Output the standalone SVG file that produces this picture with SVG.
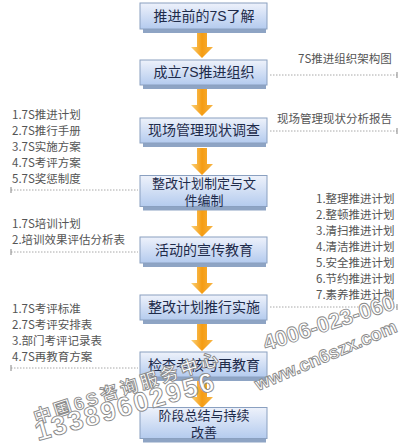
<svg xmlns="http://www.w3.org/2000/svg" width="405" height="448" viewBox="0 0 405 448">
<defs>
<linearGradient id="bg" x1="0" y1="0" x2="0" y2="1">
<stop offset="0" stop-color="#eef2fb"/>
<stop offset="1" stop-color="#b4cbee"/>
</linearGradient>
<linearGradient id="ag" x1="0" y1="0" x2="1" y2="0">
<stop offset="0" stop-color="#fbd27a"/>
<stop offset="0.5" stop-color="#f59c12"/>
<stop offset="1" stop-color="#f7b545"/>
</linearGradient>
<g id="arrow"><path d="M197,0 H207 V16 H213 L202,27 L191,16 H197 Z" fill="url(#ag)"/></g>
</defs>
<style>
.box{fill:url(#bg);stroke:#8aa0c0;stroke-width:1}
.base{fill:#8ea4c4}
.bt{font-family:"Liberation Sans","Noto Sans CJK SC",sans-serif;font-size:14px;fill:#1e2b4a;text-anchor:middle}
.bt2{font-size:13px}
.note{font-family:"Noto Sans CJK SC","Liberation Sans",sans-serif;font-size:11.5px;fill:#555}
.dl{stroke:#a8a8a8;stroke-width:1;stroke-dasharray:1.5 1.5;fill:none}
.tick{stroke:#999;stroke-width:1.2}
.wm{font-family:"Liberation Sans","Noto Sans CJK SC",sans-serif;font-weight:bold;fill:#fff;stroke:#8a8a8a;stroke-width:0.9}
</style>
<rect width="405" height="448" fill="#fff"/>
<g id="connectors">
<use href="#arrow" y="31"/>
<use href="#arrow" y="89"/>
<use href="#arrow" y="148"/>
<use href="#arrow" y="210"/>
<use href="#arrow" y="267"/>
<use href="#arrow" y="324"/>
<use href="#arrow" y="381"/>
<line class="dl" x1="270" y1="75" x2="397" y2="75"/><line class="tick" x1="397" y1="72" x2="397" y2="78"/>
<line class="dl" x1="270" y1="131" x2="397" y2="131"/><line class="tick" x1="397" y1="128" x2="397" y2="134"/>
<line class="dl" x1="11" y1="190" x2="138" y2="190"/><line class="tick" x1="11" y1="187" x2="11" y2="193"/>
<line class="dl" x1="11" y1="252" x2="138" y2="252"/><line class="tick" x1="11" y1="249" x2="11" y2="255"/>
<line class="dl" x1="270" y1="307" x2="397" y2="307"/><line class="tick" x1="397" y1="304" x2="397" y2="310"/>
<line class="dl" x1="11" y1="368" x2="138" y2="368"/><line class="tick" x1="11" y1="365" x2="11" y2="371"/>
</g>
<g id="n1"><rect class="base" x="143" y="7" width="123" height="26"/><rect class="box" x="140" y="3" width="127" height="26"/><text class="bt" x="204" y="21">推进前的7S了解</text></g>
<g id="n2"><rect class="base" x="143" y="64" width="123" height="25"/><rect class="box" x="140" y="60" width="127" height="25"/><text class="bt" x="204" y="77">成立7S推进组织</text></g>
<g id="n3"><rect class="base" x="143" y="122" width="123" height="25"/><rect class="box" x="140" y="118" width="127" height="25"/><text class="bt" x="204" y="135">现场管理现状调查</text></g>
<g id="n4"><rect class="base" x="143" y="179.5" width="123" height="31"/><rect class="box" x="140" y="175.5" width="127" height="31"/><text class="bt bt2" x="204" y="188">整改计划制定与文</text><text class="bt bt2" x="204" y="205">件编制</text></g>
<g id="n5"><rect class="base" x="143" y="241" width="123" height="26"/><rect class="box" x="140" y="237" width="127" height="26"/><text class="bt" x="204" y="255">活动的宣传教育</text></g>
<g id="n6"><rect class="base" x="143" y="299" width="123" height="25"/><rect class="box" x="140" y="295" width="127" height="25"/><text class="bt" x="204" y="312">整改计划推行实施</text></g>
<g id="n7"><rect class="base" x="143" y="356" width="123" height="25"/><rect class="box" x="140" y="352" width="127" height="25"/><text class="bt" x="204" y="370">检查考核与再教育</text></g>
<g id="n8"><rect class="base" x="143" y="411.5" width="123" height="31"/><rect class="box" x="140" y="407.5" width="127" height="31"/><text class="bt bt2" x="204" y="420">阶段总结与持续</text><text class="bt bt2" x="204" y="437">改善</text></g>
<g id="notes">
<text class="note" x="298" y="63">7S推进组织架构图</text>
<text class="note" x="277" y="123">现场管理现状分析报告</text>
<text class="note" x="12" y="119">1.7S推进计划</text>
<text class="note" x="12" y="135">2.7S推行手册</text>
<text class="note" x="12" y="151">3.7S实施方案</text>
<text class="note" x="12" y="167">4.7S考评方案</text>
<text class="note" x="12" y="183">5.7S奖惩制度</text>
<text class="note" x="12" y="228">1.7S培训计划</text>
<text class="note" x="12" y="244">2.培训效果评估分析表</text>
<text class="note" x="316" y="203">1.整理推进计划</text>
<text class="note" x="316" y="219">2.整顿推进计划</text>
<text class="note" x="316" y="235">3.清扫推进计划</text>
<text class="note" x="316" y="251">4.清洁推进计划</text>
<text class="note" x="316" y="267">5.安全推进计划</text>
<text class="note" x="316" y="283">6.节约推进计划</text>
<text class="note" x="316" y="299">7.素养推进计划</text>
<text class="note" x="12" y="313">1.7S考评标准</text>
<text class="note" x="12" y="329">2.7S考评安排表</text>
<text class="note" x="12" y="345">3.部门考评记录表</text>
<text class="note" x="12" y="361">4.7S再教育方案</text>
</g>
<g id="watermark">
<text class="wm" font-size="18" letter-spacing="3" transform="translate(36,424) rotate(-18)">中国6S咨询服务中心</text>
<text class="wm" font-size="22" transform="translate(266,351) rotate(-18)">4006-023-060</text>
<text class="wm" font-size="18.5" transform="translate(258,391) rotate(-23)">www.cn6szx.com</text>
<text class="wm" font-size="27" letter-spacing="2" transform="translate(38,441) rotate(-16)">13389602956</text>
</g>
</svg>
